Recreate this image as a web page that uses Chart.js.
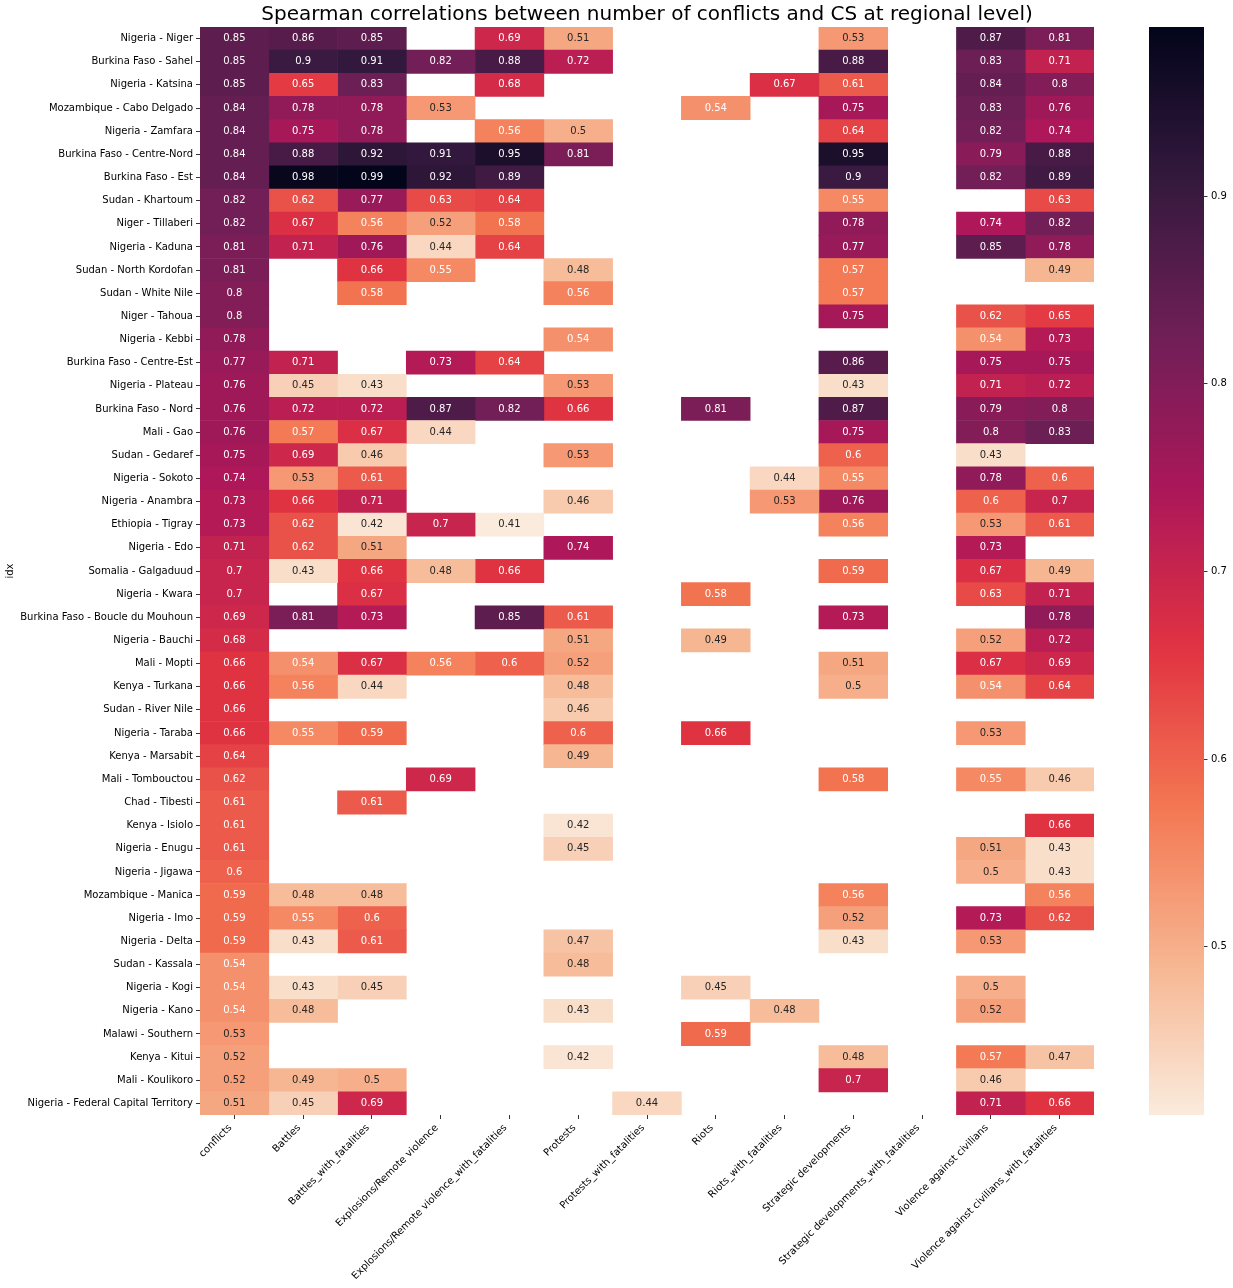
<!DOCTYPE html>
<html>
<head>
<meta charset="utf-8">
<script src="https://cdn.jsdelivr.net/npm/chart.js@4.4.0/dist/chart.umd.min.js"></script>
<style>
  html, body { margin: 0; padding: 0; background: #fff; }
</style>
</head>
<body>
<canvas id="heatmap" width="1233" height="1288"></canvas>
<script>
const regions = [
    'Nigeria - Niger', 'Burkina Faso - Sahel', 'Nigeria - Katsina', 'Mozambique - Cabo Delgado',
    'Nigeria - Zamfara', 'Burkina Faso - Centre-Nord', 'Burkina Faso - Est', 'Sudan - Khartoum',
    'Niger - Tillaberi', 'Nigeria - Kaduna', 'Sudan - North Kordofan', 'Sudan - White Nile',
    'Niger - Tahoua', 'Nigeria - Kebbi', 'Burkina Faso - Centre-Est', 'Nigeria - Plateau',
    'Burkina Faso - Nord', 'Mali - Gao', 'Sudan - Gedaref', 'Nigeria - Sokoto',
    'Nigeria - Anambra', 'Ethiopia - Tigray', 'Nigeria - Edo', 'Somalia - Galgaduud',
    'Nigeria - Kwara', 'Burkina Faso - Boucle du Mouhoun', 'Nigeria - Bauchi', 'Mali - Mopti',
    'Kenya - Turkana', 'Sudan - River Nile', 'Nigeria - Taraba', 'Kenya - Marsabit',
    'Mali - Tombouctou', 'Chad - Tibesti', 'Kenya - Isiolo', 'Nigeria - Enugu',
    'Nigeria - Jigawa', 'Mozambique - Manica', 'Nigeria - Imo', 'Nigeria - Delta',
    'Sudan - Kassala', 'Nigeria - Kogi', 'Nigeria - Kano', 'Malawi - Southern',
    'Kenya - Kitui', 'Mali - Koulikoro', 'Nigeria - Federal Capital Territory'
];

const columns = [
    'conflicts', 'Battles', 'Battles_with_fatalities', 'Explosions/Remote violence',
    'Explosions/Remote violence_with_fatalities', 'Protests', 'Protests_with_fatalities',
    'Riots', 'Riots_with_fatalities', 'Strategic developments',
    'Strategic developments_with_fatalities', 'Violence against civilians',
    'Violence against civilians_with_fatalities'
];

// one array per column, one entry per region (null = empty cell)
const conflicts = [
    0.85, 0.85, 0.85, 0.84, 0.84, 0.84, 0.84, 0.82, 0.82, 0.81,
    0.81, 0.8, 0.8, 0.78, 0.77, 0.76, 0.76, 0.76, 0.75, 0.74,
    0.73, 0.73, 0.71, 0.7, 0.7, 0.69, 0.68, 0.66, 0.66, 0.66,
    0.66, 0.64, 0.62, 0.61, 0.61, 0.61, 0.6, 0.59, 0.59, 0.59,
    0.54, 0.54, 0.54, 0.53, 0.52, 0.52, 0.51
];
const battles = [
    0.86, 0.9, 0.65, 0.78, 0.75, 0.88, 0.98, 0.62, 0.67, 0.71,
    null, null, null, null, 0.71, 0.45, 0.72, 0.57, 0.69, 0.53,
    0.66, 0.62, 0.62, 0.43, null, 0.81, null, 0.54, 0.56, null,
    0.55, null, null, null, null, null, null, 0.48, 0.55, 0.43,
    null, 0.43, 0.48, null, null, 0.49, 0.45
];
const battlesFatal = [
    0.85, 0.91, 0.83, 0.78, 0.78, 0.92, 0.99, 0.77, 0.56, 0.76,
    0.66, 0.58, null, null, null, 0.43, 0.72, 0.67, 0.46, 0.61,
    0.71, 0.42, 0.51, 0.66, 0.67, 0.73, null, 0.67, 0.44, null,
    0.59, null, null, 0.61, null, null, null, 0.48, 0.6, 0.61,
    null, 0.45, null, null, null, 0.5, 0.69
];
const explosions = [
    null, 0.82, null, 0.53, null, 0.91, 0.92, 0.63, 0.52, 0.44,
    0.55, null, null, null, 0.73, null, 0.87, 0.44, null, null,
    null, 0.7, null, 0.48, null, null, null, 0.56, null, null,
    null, null, 0.69, null, null, null, null, null, null, null,
    null, null, null, null, null, null, null
];
const explosionsFatal = [
    0.69, 0.88, 0.68, null, 0.56, 0.95, 0.89, 0.64, 0.58, 0.64,
    null, null, null, null, 0.64, null, 0.82, null, null, null,
    null, 0.41, null, 0.66, null, 0.85, null, 0.6, null, null,
    null, null, null, null, null, null, null, null, null, null,
    null, null, null, null, null, null, null
];
const protests = [
    0.51, 0.72, null, null, 0.5, 0.81, null, null, null, null,
    0.48, 0.56, null, 0.54, null, 0.53, 0.66, null, 0.53, null,
    0.46, null, 0.74, null, null, 0.61, 0.51, 0.52, 0.48, 0.46,
    0.6, 0.49, null, null, 0.42, 0.45, null, null, null, 0.47,
    0.48, null, 0.43, null, 0.42, null, null
];
const protestsFatal = [
    null, null, null, null, null, null, null, null, null, null,
    null, null, null, null, null, null, null, null, null, null,
    null, null, null, null, null, null, null, null, null, null,
    null, null, null, null, null, null, null, null, null, null,
    null, null, null, null, null, null, 0.44
];
const riots = [
    null, null, null, 0.54, null, null, null, null, null, null,
    null, null, null, null, null, null, 0.81, null, null, null,
    null, null, null, null, 0.58, null, 0.49, null, null, null,
    0.66, null, null, null, null, null, null, null, null, null,
    null, 0.45, null, 0.59, null, null, null
];
const riotsFatal = [
    null, null, 0.67, null, null, null, null, null, null, null,
    null, null, null, null, null, null, null, null, null, 0.44,
    0.53, null, null, null, null, null, null, null, null, null,
    null, null, null, null, null, null, null, null, null, null,
    null, null, 0.48, null, null, null, null
];
const strategic = [
    0.53, 0.88, 0.61, 0.75, 0.64, 0.95, 0.9, 0.55, 0.78, 0.77,
    0.57, 0.57, 0.75, null, 0.86, 0.43, 0.87, 0.75, 0.6, 0.55,
    0.76, 0.56, null, 0.59, null, 0.73, null, 0.51, 0.5, null,
    null, null, 0.58, null, null, null, null, 0.56, 0.52, 0.43,
    null, null, null, null, 0.48, 0.7, null
];
const strategicFatal = [
    null, null, null, null, null, null, null, null, null, null,
    null, null, null, null, null, null, null, null, null, null,
    null, null, null, null, null, null, null, null, null, null,
    null, null, null, null, null, null, null, null, null, null,
    null, null, null, null, null, null, null
];
const civilians = [
    0.87, 0.83, 0.84, 0.83, 0.82, 0.79, 0.82, null, 0.74, 0.85,
    null, null, 0.62, 0.54, 0.75, 0.71, 0.79, 0.8, 0.43, 0.78,
    0.6, 0.53, 0.73, 0.67, 0.63, null, 0.52, 0.67, 0.54, null,
    0.53, null, 0.55, null, null, 0.51, 0.5, null, 0.73, 0.53,
    null, 0.5, 0.52, null, 0.57, 0.46, 0.71
];
const civiliansFatal = [
    0.81, 0.71, 0.8, 0.76, 0.74, 0.88, 0.89, 0.63, 0.82, 0.78,
    0.49, null, 0.65, 0.73, 0.75, 0.72, 0.8, 0.83, null, 0.6,
    0.7, 0.61, null, 0.49, 0.71, 0.78, 0.72, 0.69, 0.64, null,
    null, null, 0.46, null, 0.66, 0.43, 0.43, 0.56, 0.62, null,
    null, null, null, null, 0.47, null, 0.66
];

const columnData = [
    conflicts, battles, battlesFatal, explosions, explosionsFatal, protests, protestsFatal,
    riots, riotsFatal, strategic, strategicFatal, civilians, civiliansFatal
];

const colorbarTicks = [0.5, 0.6, 0.7, 0.8, 0.9];
const COLOR_MIN = 0.41;
const COLOR_MAX = 0.99;

// seaborn "rocket" sampled at k/7, used reversed
const rocketStops = ['#03051a', '#35193e', '#701f57', '#ad1759', '#e13342', '#f37651', '#f6b48f', '#faebdd'];

function hexToRgb(hex) {
    return [1, 3, 5].map(i => parseInt(hex.substr(i, 2), 16));
}

function rocketR(v) {
    let t = 1 - (v - COLOR_MIN) / (COLOR_MAX - COLOR_MIN);
    t = Math.min(1, Math.max(0, t));
    const pos = t * (rocketStops.length - 1);
    const i = Math.min(Math.floor(pos), rocketStops.length - 2);
    const f = pos - i;
    const a = hexToRgb(rocketStops[i]);
    const b = hexToRgb(rocketStops[i + 1]);
    return [0, 1, 2].map(k => Math.round(a[k] + (b[k] - a[k]) * f));
}

function cellColor(v) {
    const [r, g, b] = rocketR(v);
    return `rgb(${r}, ${g}, ${b})`;
}

// same rule seaborn uses to pick annotation colour
function textColor(v) {
    const lin = rocketR(v).map(c => {
        c = c / 255;
        return c <= 0.03928 ? c / 12.92 : Math.pow((c + 0.055) / 1.055, 2.4);
    });
    const lum = 0.2126 * lin[0] + 0.7152 * lin[1] + 0.0722 * lin[2];
    return lum > 0.408 ? '#262626' : '#ffffff';
}

const cellLabels = {
    id: 'cellLabels',
    afterDatasetsDraw(chart) {
        const ctx = chart.ctx;
        ctx.save();
        ctx.font = "10px 'DejaVu Sans'";
        ctx.textAlign = 'center';
        ctx.textBaseline = 'middle';
        chart.data.datasets.forEach((ds, c) => {
            chart.getDatasetMeta(c).data.forEach((bar, r) => {
                const v = columnData[c][r];
                if (v === null || v === undefined) return;
                const p = bar.getCenterPoint();
                ctx.fillStyle = textColor(v);
                ctx.fillText(String(v), p.x, p.y);
            });
        });
        ctx.restore();
    }
};

// gradient bar + ticks + labels, placed with the 'cb' scale
const colorbar = {
    id: 'colorbar',
    afterDraw(chart) {
        const ctx = chart.ctx;
        const cb = chart.scales.cb;
        const left = chart.chartArea.right + 55;
        const width = 55;
        const top = cb.getPixelForValue(COLOR_MAX);
        const bottom = cb.getPixelForValue(COLOR_MIN);
        const grad = ctx.createLinearGradient(0, top, 0, bottom);
        for (let i = 0; i <= 64; i++) {
            const f = i / 64;
            grad.addColorStop(f, cellColor(COLOR_MAX - f * (COLOR_MAX - COLOR_MIN)));
        }
        ctx.save();
        ctx.fillStyle = grad;
        ctx.fillRect(left, top, width, bottom - top);
        ctx.strokeStyle = '#000';
        ctx.fillStyle = '#000';
        ctx.lineWidth = 0.8;
        ctx.font = "10px 'DejaVu Sans'";
        ctx.textAlign = 'left';
        ctx.textBaseline = 'middle';
        colorbarTicks.forEach(v => {
            const y = Math.round(cb.getPixelForValue(v)) + 0.5;
            ctx.beginPath();
            ctx.moveTo(left + width, y);
            ctx.lineTo(left + width + 3.5, y);
            ctx.stroke();
            ctx.fillText(String(v), left + width + 7, y);
        });
        ctx.restore();
    }
};

Chart.defaults.font.family = "'DejaVu Sans', sans-serif";
Chart.defaults.font.size = 10;
Chart.defaults.color = '#000';

const ctx = document.getElementById('heatmap').getContext('2d');
new Chart(ctx, {
    type: 'bar',
    data: {
        labels: regions,
        datasets: columns.map((name, c) => ({
            label: name,
            data: columnData[c].map(v => v === null ? null : [c, c + 1]),
            backgroundColor: columnData[c].map(v => v === null ? 'rgba(0,0,0,0)' : cellColor(v)),
            borderWidth: 0,
            grouped: false,
            barPercentage: 1,
            categoryPercentage: 1
        }))
    },
    options: {
        indexAxis: 'y',
        responsive: false,
        animation: false,
        events: [],
        layout: { padding: 0 },
        scales: {
            x: {
                type: 'linear',
                min: 0,
                max: columns.length,
                afterBuildTicks: scale => {
                    scale.ticks = columns.map((_, i) => ({ value: i + 0.5 }));
                },
                afterFit: scale => { scale.height = 173; },
                border: { display: false },
                grid: {
                    drawOnChartArea: false, drawTicks: true, tickLength: 4,
                    color: '#000', lineWidth: 0.8
                },
                ticks: {
                    autoSkip: false,
                    minRotation: 45,
                    maxRotation: 45,
                    padding: 3,
                    labelOffset: -4,
                    callback: (value, index) => columns[index]
                }
            },
            y: {
                type: 'category',
                offset: true,
                afterFit: scale => { scale.width = 200; },
                border: { display: false },
                grid: {
                    offset: false, drawOnChartArea: false, drawTicks: true, tickLength: 4,
                    color: '#000', lineWidth: 0.8
                },
                ticks: { autoSkip: false, padding: 3 },
                title: { display: true, text: 'idx', font: { size: 10 }, padding: { top: 4, bottom: 4 } }
            },
            cb: {
                type: 'linear',
                axis: 'y',
                position: 'right',
                offset: false,
                min: COLOR_MIN,
                max: COLOR_MAX,
                afterFit: scale => {
                    scale.width = 139;
                    scale.paddingTop = 0;
                    scale.paddingBottom = 0;
                },
                border: { display: false },
                grid: { display: false, drawTicks: false, offset: false },
                ticks: { display: false }
            }
        },
        plugins: {
            legend: { display: false },
            tooltip: { enabled: false },
            title: {
                display: true,
                fullSize: false,
                text: 'Spearman correlations between number of conflicts and CS at regional level)',
                font: { size: 20, weight: 'normal' },
                color: '#000',
                padding: { top: 3, bottom: 0 }
            }
        }
    },
    plugins: [cellLabels, colorbar]
});
</script>
</body>
</html>
